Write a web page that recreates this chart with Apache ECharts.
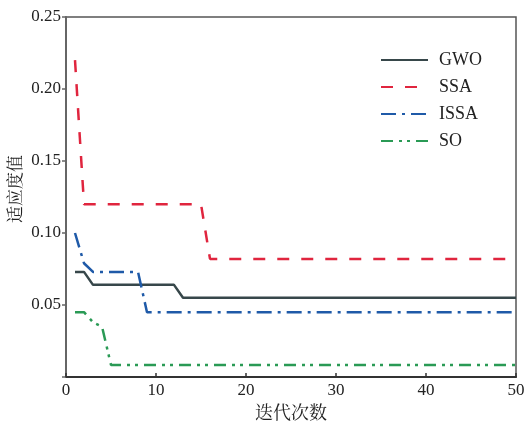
<!DOCTYPE html>
<html>
<head>
<meta charset="utf-8">
<script src="https://cdn.jsdelivr.net/npm/echarts@6/dist/echarts.min.js"></script>
<style>
html,body{margin:0;padding:0;background:#fff;}
#main{width:524px;height:422px;}
</style>
</head>
<body>
<div id="main"></div>
<script>
// 迭代次数断点与适应度值
var seriesNames = ['GWO', 'SSA', 'ISSA', 'SO'];

var gwoIter = [1, 2, 3, 12, 13, 50];
var gwoVal  = [0.073, 0.073, 0.064, 0.064, 0.055, 0.055];

var ssaIter = [1, 2, 15, 16, 50];
var ssaVal  = [0.22, 0.12, 0.12, 0.082, 0.082];

var issaIter = [1, 2, 3, 8, 9, 50];
var issaVal  = [0.100, 0.079, 0.073, 0.073, 0.045, 0.045];

var soIter = [1, 2, 3, 4, 5, 50];
var soVal  = [0.045, 0.045, 0.038, 0.035, 0.0083, 0.0083];

var xTicks = [0, 10, 20, 30, 40, 50];
var yTicks = [0, 0.05, 0.10, 0.15, 0.20, 0.25];

var serifFont = '"Liberation Serif", "Times New Roman", "DejaVu Serif", serif';
var cjkFont = '"Noto Serif CJK SC", "Noto Sans CJK SC", sans-serif';

function pairs(xs, ys){
	var out = [];
	for(var i = 0; i < xs.length; i++){
		out.push([xs[i], ys[i]]);
	}
	return out;
}

function lineSeries(name, xs, ys, color, type){
	return {
		name: name,
		type: 'line',
		data: pairs(xs, ys),
		symbol: 'none',
		showSymbol: false,
		animation: false,
		lineStyle: {
			color: color,
			width: 2.5,
			type: type,
			cap: 'butt'
		},
		itemStyle: { color: color }
	};
}

var myChart = echarts.init(document.getElementById('main'), null, {renderer: 'canvas'});

var option = {
	animation: false,
	grid: {
		left: 66, right: 8, top: 17, bottom: 45,
		outerBoundsMode: 'none',
		containLabel: false,
		show: true,
		borderColor: '#555',
		borderWidth: 1.5
	},
	legend: {
		orient: 'vertical',
		left: 380,
		top: 51,
		padding: 0,
		itemWidth: 47,
		itemHeight: 14,
		itemGap: 9,
		data: seriesNames,
		itemStyle: { opacity: 0 },
		textStyle: {
			fontFamily: serifFont,
			fontSize: 18,
			color: '#222',
			lineHeight: 14,
			padding: [0, 0, 0, 6]
		}
	},
	xAxis: {
		type: 'value',
		min: xTicks[0],
		max: xTicks[xTicks.length - 1],
		interval: 10,
		name: '迭代次数',
		nameLocation: 'middle',
		nameGap: 26,
		nameMoveOverlap: false,
		nameTextStyle: { fontFamily: cjkFont, fontSize: 18, color: '#222' },
		axisLine: { lineStyle: { color: '#333', width: 2 } },
		axisTick: { inside: true, length: 4, lineStyle: { color: '#333', width: 1.5 } },
		axisLabel: { fontFamily: serifFont, fontSize: 17, color: '#222', margin: 5 },
		splitLine: { show: false }
	},
	yAxis: {
		type: 'value',
		min: yTicks[0],
		max: yTicks[yTicks.length - 1],
		interval: 0.05,
		name: '适应度值',
		nameLocation: 'middle',
		nameGap: 43,
		nameMoveOverlap: false,
		nameTextStyle: { fontFamily: cjkFont, fontSize: 17, color: '#222', padding: [0, 0, 0, 16] },
		axisLine: { show: true, lineStyle: { color: '#666', width: 2 } },
		axisTick: { show: true, inside: false, length: 4, lineStyle: { color: '#666', width: 1.5 } },
		axisLabel: {
			fontFamily: serifFont, fontSize: 17, color: '#222', margin: 5,
			formatter: function(v){ return v === 0 ? '' : v.toFixed(2); }
		},
		splitLine: { show: false }
	},
	series: [
		lineSeries('GWO', gwoIter, gwoVal, '#37474a', 'solid'),
		lineSeries('SSA', ssaIter, ssaVal, '#e0253e', [12, 12]),
		lineSeries('ISSA', issaIter, issaVal, '#1f5aa8', [15, 6, 3, 6]),
		lineSeries('SO', soIter, soVal, '#2a9a55', [12, 6, 3, 5, 3, 6])
	]
};

myChart.setOption(option);
</script>
</body>
</html>
